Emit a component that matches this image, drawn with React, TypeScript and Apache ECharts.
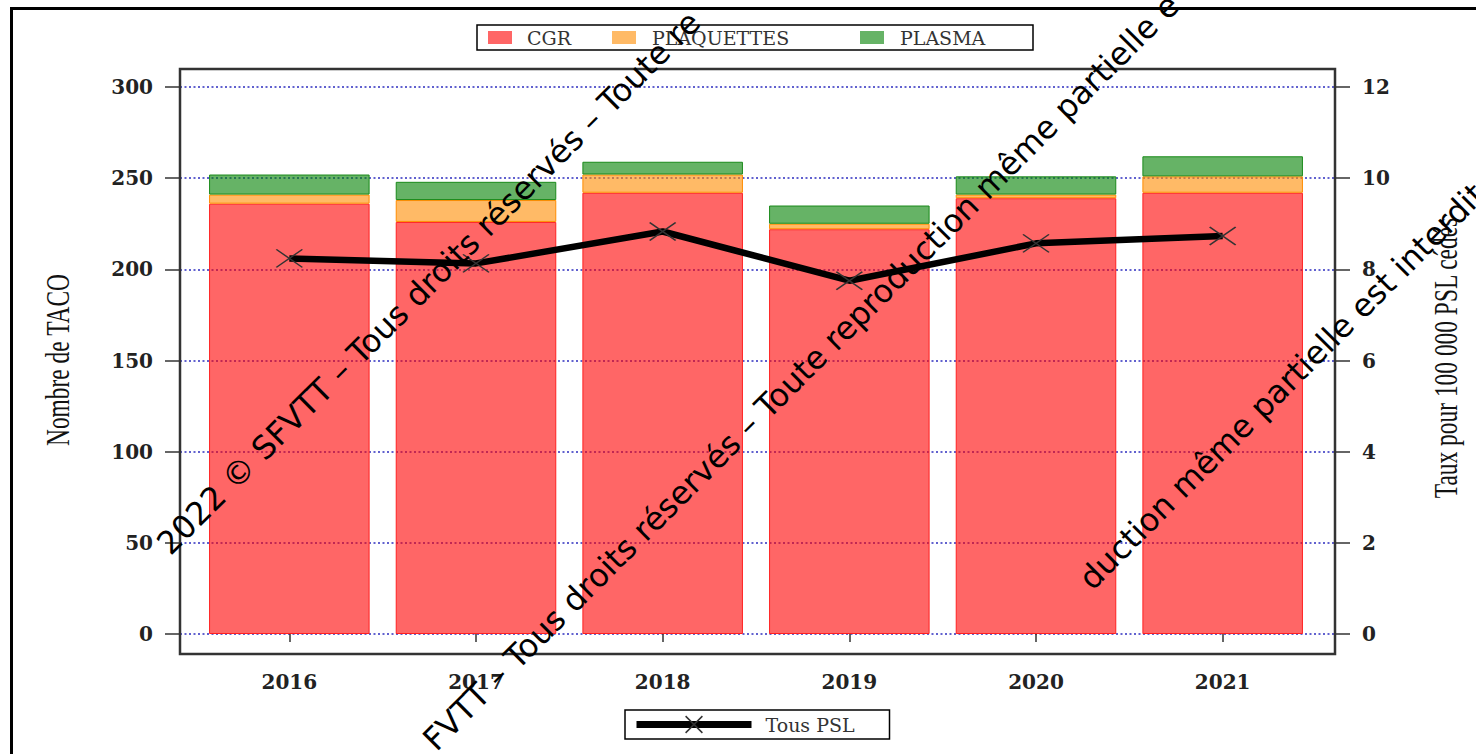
import React, { useEffect, useRef } from 'react';
import * as echarts from 'echarts';

const years = ['2016', '2017', '2018', '2019', '2020', '2021'];
const cgr = [236, 226, 242, 222, 239, 242];
const plaquettes = [5, 12, 10, 3, 2, 9];
const plasma = [11, 10, 7, 10, 10, 11];
const tousPSL = [8.24, 8.13, 8.83, 7.75, 8.57, 8.73];

const leftMin = 0;
const leftMax = 300;
const leftInterval = 50;
const rightMin = 0;
const rightMax = 12;
const rightInterval = 2;

const leftTitle = 'Nombre de TACO';
const rightTitle = 'Taux pour 100 000 PSL cédés';
// visible fragments of the tiled, clipped watermark
const watermarkLines = [
  '2022 © SFVTT – Tous droits réservés – Toute re',
  'FVTT – Tous droits réservés – Toute reproduction même partielle e',
  'duction même partielle est interdit',
];
const watermarkOrigins = [
  [174, 560],
  [440, 756],
  [1096, 595],
];

const tickFont = {
  fontFamily: 'DejaVu Serif',
  fontWeight: 'bold',
  fontSize: 20,
  color: '#222',
};
const tickLine = { color: '#333', width: 1.5 };

const legendKeys: Record<string, string> = { CGR: 'c', PLAQUETTES: 'p', PLASMA: 's', 'Tous PSL': 't' };
const legendFont = { fontFamily: 'DejaVu Serif', fontSize: 19, color: '#333', lineHeight: 19 };

function buildOption() {
  return {
    animation: false,
    backgroundColor: '#ffffff',
    grid: [
      { left: 180, right: 141, top: 87, bottom: 120 },
      { left: 196, right: 160, top: 87, bottom: 120 },
    ],
    xAxis: [
      { type: 'value', gridIndex: 0, show: false, min: 0, max: 1 },
      {
        type: 'category',
        gridIndex: 1,
        data: years,
        offset: 20,
        axisLine: { show: false },
        axisTick: { show: true, alignWithLabel: true, length: 8, lineStyle: tickLine },
        axisLabel: { ...tickFont, margin: 18 },
        splitLine: { show: false },
      },
    ],
    yAxis: [
      {
        type: 'value',
        gridIndex: 0,
        position: 'left',
        min: leftMin,
        max: leftMax,
        interval: leftInterval,
        axisLine: { show: false },
        axisTick: { show: true, length: 15, lineStyle: tickLine },
        axisLabel: { ...tickFont, margin: 27 },
        splitLine: { show: true, lineStyle: { color: '#2e2ec0', type: [2, 2.5], width: 1.6 } },
      },
      {
        type: 'value',
        gridIndex: 0,
        position: 'right',
        min: rightMin,
        max: rightMax,
        interval: rightInterval,
        axisLine: { show: false },
        axisTick: { show: true, length: 15, lineStyle: tickLine },
        axisLabel: { ...tickFont, margin: 27 },
        splitLine: { show: false },
      },
      { type: 'value', gridIndex: 1, min: leftMin, max: leftMax, show: false, splitLine: { show: false } },
      { type: 'value', gridIndex: 1, min: rightMin, max: rightMax, show: false, splitLine: { show: false } },
    ],
    legend: [
      {
        data: ['CGR', 'PLAQUETTES', 'PLASMA'],
        left: 477,
        top: 25,
        orient: 'horizontal',
        itemGap: 0,
        itemWidth: 24,
        itemHeight: 13,
        icon: 'rect',
        padding: [3, 11, 3, 11],
        borderColor: '#000',
        borderWidth: 1.5,
        borderRadius: 0,
        selectedMode: false,
        itemStyle: { borderWidth: 0 },
        formatter: (name: string) => `{${legendKeys[name]}|${name}}`,
        textStyle: {
          ...legendFont,
          rich: {
            c: { ...legendFont, width: 85, padding: [0, 0, 0, 10] },
            p: { ...legendFont, width: 208, padding: [0, 0, 0, 11] },
            s: { ...legendFont, width: 122, padding: [0, 0, 0, 11] },
          },
        },
      },
      {
        data: ['Tous PSL'],
        left: 625,
        top: 710,
        orient: 'horizontal',
        itemWidth: 115,
        itemHeight: 21,
        padding: [4, 8, 4, 8],
        borderColor: '#000',
        borderWidth: 1.5,
        borderRadius: 0,
        selectedMode: false,
        lineStyle: { width: 7, color: '#000' },
        itemStyle: { color: '#000', borderColor: '#333', borderWidth: 1.5 },
        formatter: (name: string) => `{${legendKeys[name]}|${name}}`,
        textStyle: {
          ...legendFont,
          lineHeight: 21,
          rich: {
            t: { ...legendFont, lineHeight: 21, width: 116, padding: [0, 0, 0, 9] },
          },
        },
      },
    ],
    series: [
      {
        name: 'CGR',
        type: 'bar',
        stack: 'psl',
        xAxisIndex: 1,
        yAxisIndex: 2,
        data: cgr,
        barCategoryGap: '14%',
        itemStyle: { color: 'rgba(255,0,0,0.6)', borderColor: '#ff2020', borderWidth: 1 },
      },
      {
        name: 'PLAQUETTES',
        type: 'bar',
        stack: 'psl',
        xAxisIndex: 1,
        yAxisIndex: 2,
        data: plaquettes,
        barCategoryGap: '14%',
        itemStyle: { color: 'rgba(255,140,0,0.6)', borderColor: '#ff8c00', borderWidth: 1 },
      },
      {
        name: 'PLASMA',
        type: 'bar',
        stack: 'psl',
        xAxisIndex: 1,
        yAxisIndex: 2,
        data: plasma,
        barCategoryGap: '14%',
        itemStyle: { color: 'rgba(0,128,0,0.6)', borderColor: '#1a8a1a', borderWidth: 1 },
      },
      {
        name: 'Tous PSL',
        type: 'line',
        xAxisIndex: 1,
        yAxisIndex: 3,
        data: tousPSL,
        symbol: 'path://M0,0L10,10M10,0L0,10',
        symbolSize: [26, 18],
        lineStyle: { color: '#000', width: 6.5 },
        itemStyle: { color: '#000', borderColor: '#333', borderWidth: 1.5 },
        z: 5,
      },
    ],
    graphic: [
      {
        type: 'rect',
        silent: true,
        z: 50,
        shape: { x: 11.5, y: 8.5, width: 1600, height: 900 },
        style: { fill: 'none', stroke: '#000', lineWidth: 3 },
      },
      {
        type: 'rect',
        silent: true,
        z: 50,
        shape: { x: 180, y: 69, width: 1155, height: 585 },
        style: { fill: 'none', stroke: '#333', lineWidth: 2.5 },
      },
      {
        type: 'text',
        silent: true,
        z: 50,
        x: 58,
        y: 360,
        rotation: Math.PI / 2,
        scaleX: 0.71,
        style: {
          text: leftTitle,
          fontFamily: 'Liberation Serif',
          fontSize: 33,
          fill: '#111',
          align: 'center',
          verticalAlign: 'middle',
        },
      },
      {
        type: 'text',
        silent: true,
        z: 50,
        x: 1446,
        y: 358,
        rotation: Math.PI / 2,
        scaleX: 0.71,
        style: {
          text: rightTitle,
          fontFamily: 'Liberation Serif',
          fontSize: 33,
          fill: '#111',
          align: 'center',
          verticalAlign: 'middle',
        },
      },
      ...watermarkLines.map((text, i) => ({
        type: 'text',
        silent: true,
        z: 100,
        x: watermarkOrigins[i][0],
        y: watermarkOrigins[i][1],
        rotation: Math.PI / 4,
        style: {
          text,
          fontFamily: 'DejaVu Sans',
          fontSize: 32,
          fill: '#000',
          align: 'left',
          verticalAlign: 'bottom',
        },
      })),
    ],
  };
}

export default function App() {
  const ref = useRef<HTMLDivElement>(null);
  useEffect(() => {
    if (!ref.current) return;
    const chart = echarts.init(ref.current, null, { renderer: 'svg', width: 1476, height: 754 });
    chart.setOption(buildOption() as any);
    return () => {
      chart.dispose();
    };
  }, []);
  return (
    <div
      ref={ref}
      style={{ position: 'absolute', left: 0, top: 0, width: 1476, height: 754, background: '#fff', overflow: 'hidden' }}
    />
  );
}
